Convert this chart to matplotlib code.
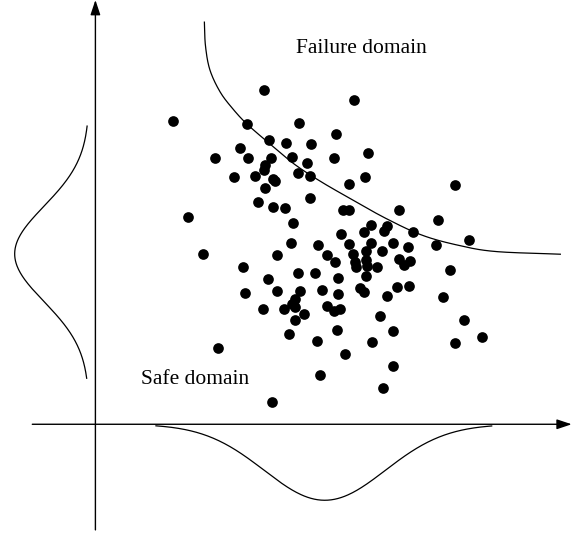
import numpy as np
import matplotlib
matplotlib.use("Agg")
import matplotlib.pyplot as plt

# Sample points (arbitrary units, origin at the axes crossing)
sample_x = [459, 705, 211, 413, 555, 656, 473, 520, 587, 394, 742, 326, 415, 478, 536, 651,
            577, 461, 460, 378, 434, 483, 490, 552, 584, 734, 691, 981, 463, 443, 584, 485,
            518, 674, 691, 827, 253, 538, 934, 750, 794, 787, 670, 732, 865, 1019, 532, 606,
            691, 752, 812, 927, 851, 292, 495, 630, 701, 738, 781, 653, 708, 737, 826, 856,
            842, 403, 711, 740, 767, 965, 551, 599, 661, 738, 471, 407, 496, 558, 617, 721,
            731, 822, 854, 660, 794, 947, 543, 456, 513, 537, 543, 632, 650, 666, 569, 775,
            544, 1005, 658, 810, 527, 604, 753, 981, 1053, 334, 680, 810, 613, 785, 481]
sample_y = [981, 953, 889, 881, 884, 852, 835, 826, 821, 812, 795, 781, 781, 782, 783, 780,
            767, 760, 745, 725, 729, 721, 715, 736, 729, 725, 706, 701, 693, 653, 664, 639,
            635, 630, 628, 628, 609, 591, 599, 586, 582, 568, 559, 564, 564, 542, 532, 527,
            529, 531, 532, 527, 521, 499, 496, 496, 501, 507, 507, 476, 477, 483, 484, 478,
            467, 462, 461, 465, 461, 454, 445, 445, 430, 435, 425, 385, 392, 392, 393, 400,
            388, 403, 405, 383, 376, 374, 367, 339, 339, 352, 344, 347, 333, 339, 323, 319,
            305, 305, 278, 274, 264, 245, 241, 239, 255, 224, 207, 170, 145, 107, 64]

# Limit-state curve (points read along the boundary)
limit_x = [297, 300, 312, 340, 375, 413, 473, 540, 610, 690, 790, 890, 990, 1090, 1267]
limit_y = [1180, 1110, 1040, 975, 925, 881, 825, 765, 715, 665, 605, 555, 525, 507, 499]

# Marginal densities (schematic normal shapes)
x_marg_mean, x_marg_sigma, x_marg_depth = 625, 165, 223
x_marg_range = (165, 1080)
y_marg_mean, y_marg_sigma, y_marg_depth = 500, 140, 203
y_marg_range = (135, 875)
y_marg_base = -17

labels = ["Failure domain", "Safe domain"]
label_pos = [(726, 1090), (272, 118)]


def catmull_rom(xs, ys, n=20):
    p = np.column_stack([xs, ys]).astype(float)
    p = np.vstack([2 * p[0] - p[1], p, 2 * p[-1] - p[-2]])
    out = []
    for i in range(1, len(p) - 2):
        p0, p1, p2, p3 = p[i - 1], p[i], p[i + 1], p[i + 2]
        t = np.linspace(0, 1, n, endpoint=False)[:, None]
        seg = 0.5 * ((2 * p1) + (-p0 + p2) * t + (2 * p0 - 5 * p1 + 4 * p2 - p3) * t ** 2
                     + (-p0 + 3 * p1 - 3 * p2 + p3) * t ** 3)
        out.append(seg)
    out.append(p[-2][None, :])
    out = np.vstack(out)
    return out[:, 0], out[:, 1]


fig = plt.figure(figsize=(5.75, 5.34), dpi=100)
ax = fig.add_axes([0, 0, 1, 1])
ax.set_xlim(-260, 1307)
ax.set_ylim(-322, 1245)
ax.axis("off")

# axes with arrows
arrow_style = "-|>,head_length=0.9,head_width=0.3"
ax.annotate("", xy=(1298, 0), xytext=(-172, 0),
            arrowprops=dict(arrowstyle=arrow_style, color="black", lw=1.0,
                            shrinkA=0, shrinkB=0))
ax.annotate("", xy=(0, 1245), xytext=(0, -310),
            arrowprops=dict(arrowstyle=arrow_style, color="black", lw=1.0,
                            shrinkA=0, shrinkB=0))

# limit state curve
cx, cy = catmull_rom(limit_x, limit_y)
ax.plot(cx, cy, color="black", lw=0.9)

# marginal densities
xs = np.linspace(*x_marg_range, 300)
ax.plot(xs, -x_marg_depth * np.exp(-(xs - x_marg_mean) ** 2 / (2 * x_marg_sigma ** 2)),
        color="black", lw=0.9)
ys = np.linspace(*y_marg_range, 300)
ax.plot(y_marg_base - y_marg_depth * np.exp(-(ys - y_marg_mean) ** 2 / (2 * y_marg_sigma ** 2)),
        ys, color="black", lw=0.9)

# samples
ax.plot(sample_x, sample_y, "o", color="black", markersize=7.7, markeredgewidth=0)

for text, (tx, ty) in zip(labels, label_pos):
    ax.text(tx, ty, text, ha="center", va="baseline", fontsize=15.5,
            family=["Liberation Serif", "DejaVu Serif"])

fig.savefig("out.png", dpi=100)
